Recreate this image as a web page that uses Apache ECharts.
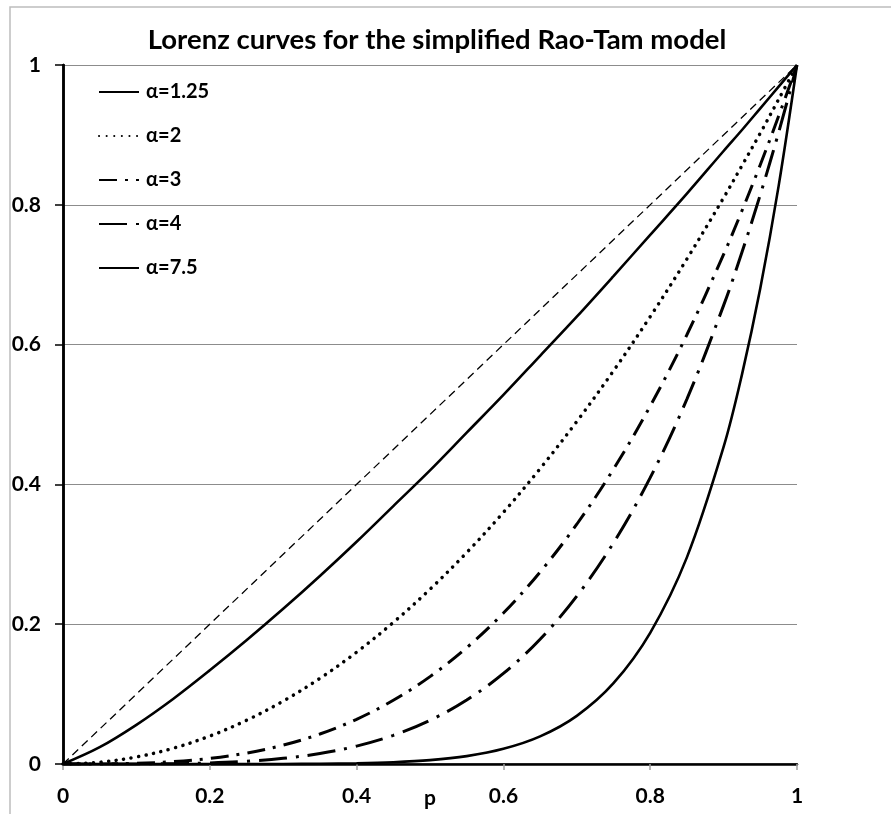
<!DOCTYPE html>
<html>
<head>
<meta charset="utf-8">
<script src="https://cdn.jsdelivr.net/npm/echarts@6/dist/echarts.min.js"></script>
<style>
html,body{margin:0;padding:0;background:#fff;overflow:hidden;}
#main{width:891px;height:814px;}
</style>
</head>
<body>
<div id="main"></div>
<script>
const TITLE = 'Lorenz curves for the simplified Rao-Tam model';
const X_TICKS = [0, 0.2, 0.4, 0.6, 0.8, 1];
const Y_TICKS = [0, 0.2, 0.4, 0.6, 0.8, 1];
const P = [0,0.05,0.1,0.15,0.2,0.25,0.3,0.35,0.4,0.45,0.5,0.55,0.6,0.65,0.7,0.75,0.8,0.85,0.9,0.925,0.95,0.975,1];
const L_125 = [0,0.024,0.056,0.093,0.134,0.177,0.222,0.269,0.318,0.369,0.420,0.474,0.528,0.584,0.640,0.698,0.757,0.816,0.877,0.907,0.938,0.969,1];
const L_2   = [0,0.0025,0.01,0.0225,0.04,0.0625,0.09,0.1225,0.16,0.2025,0.25,0.3025,0.36,0.4225,0.49,0.5625,0.64,0.7225,0.81,0.856,0.9025,0.951,1];
const L_3   = [0,0.0001,0.001,0.0034,0.008,0.0156,0.027,0.0429,0.064,0.0911,0.125,0.1664,0.216,0.2746,0.343,0.4219,0.512,0.6141,0.729,0.7915,0.8574,0.9269,1];
const L_4   = [0,0,0.0001,0.0005,0.0016,0.0039,0.0081,0.015,0.0256,0.041,0.0625,0.0915,0.1296,0.1785,0.2401,0.3164,0.4096,0.522,0.6561,0.7321,0.8145,0.9037,1];
const L_75  = [0,0,0,0,0,0,0.0001,0.0004,0.001,0.0025,0.0055,0.0113,0.0217,0.0395,0.0689,0.1156,0.1877,0.2956,0.4536,0.5571,0.6806,0.8271,1];
const EQ_P = [0, 1];
const EQ_L = [0, 1];
const NAMES = ['α=1.25', 'α=2', 'α=3', 'α=4', 'α=7.5'];

const zip = (xs, ys) => xs.map((x, i) => [x, ys[i]]);
const FONT = 'Lato';

const el = document.getElementById('main');
const chart = echarts.init(el, null, {renderer: 'canvas', width: 891, height: 814});
const curve = (name, ys, lineStyle) => ({
  name: name, type: 'line', data: zip(P, ys), symbol: 'none', showSymbol: false,
  smooth: 0.35, silent: true,
  lineStyle: Object.assign({color: '#000'}, lineStyle),
  itemStyle: {color: '#000'}
});

chart.setOption({
  animation: false,
  backgroundColor: '#fff',
  title: {
    text: TITLE, left: 432, top: 21, textAlign: 'center',
    textStyle: {fontFamily: FONT, fontWeight: 'bold', fontSize: 27.5, color: '#000'}
  },
  graphic: [{
    type: 'rect', shape: {x: 10, y: 7, width: 2000, height: 2000},
    style: {fill: null, stroke: '#bdbdbd', lineWidth: 1.5}, silent: true
  }],
  legend: {
    data: NAMES, orient: 'vertical', left: 93, top: 77,
    itemWidth: 40, itemHeight: 14, itemGap: 24,
    itemStyle: {opacity: 0},
    textStyle: {fontFamily: FONT, fontWeight: 'bold', fontSize: 20, color: '#000', padding: [0,0,0,2]}
  },
  grid: {left: 63, top: 65, width: 734, height: 700, containLabel: false},
  xAxis: [{
    type: 'value', min: 0, max: 1, interval: 0.2,
    name: 'p', nameLocation: 'middle', nameGap: 24, nameMoveOverlap: false,
    nameTextStyle: {fontFamily: FONT, fontWeight: 'bold', fontSize: 21, color: '#000'},
    axisLine: {lineStyle: {color: '#808080', width: 2}},
    axisTick: {show: true, length: 6, lineStyle: {color: '#a0a0a0', width: 1.5}},
    axisLabel: {margin: 22, fontFamily: FONT, fontWeight: 'bold', fontSize: 21, color: '#000',
      formatter: v => String(+v.toFixed(1))},
    splitLine: {show: false}
  }, {
    type: 'value', position: 'top', min: 0, max: 1, interval: 0.2,
    axisLine: {show: true, lineStyle: {color: '#000', width: 2.5}},
    axisTick: {show: false}, axisLabel: {show: false}, splitLine: {show: false}
  }],
  yAxis: [{
    type: 'value', min: 0, max: 1, interval: 0.2,
    axisLine: {show: true, lineStyle: {color: '#000', width: 2.5}},
    axisTick: {show: true, length: 8, lineStyle: {color: '#000', width: 1.5}},
    axisLabel: {margin: 22, fontFamily: FONT, fontWeight: 'bold', fontSize: 21, color: '#000',
      formatter: v => String(+v.toFixed(1))},
    splitLine: {show: true, lineStyle: {color: '#8c8c8c', width: 1}}
  }, {
    type: 'value', position: 'right', min: 0, max: 1, interval: 0.2,
    axisLine: {show: true, lineStyle: {color: '#000', width: 2.5}},
    axisTick: {show: false}, axisLabel: {show: false}, splitLine: {show: false}
  }],
  series: [
    {type: 'line', data: zip(EQ_P, EQ_L), symbol: 'none', silent: true,
     lineStyle: {color: '#000', width: 1.3, type: [8, 5]}},
    curve(NAMES[0], L_125, {width: 2.6, type: 'solid'}),
    curve(NAMES[1], L_2, {width: 3.5, type: [0.1, 7.5], cap: 'round'}),
    curve(NAMES[2], L_3, {width: 3, type: [18, 8, 3, 8]}),
    curve(NAMES[3], L_4, {width: 3, type: [28, 9, 3, 9]}),
    curve(NAMES[4], L_75, {width: 2.6, type: 'solid'})
  ]
});
</script>
</body>
</html>
